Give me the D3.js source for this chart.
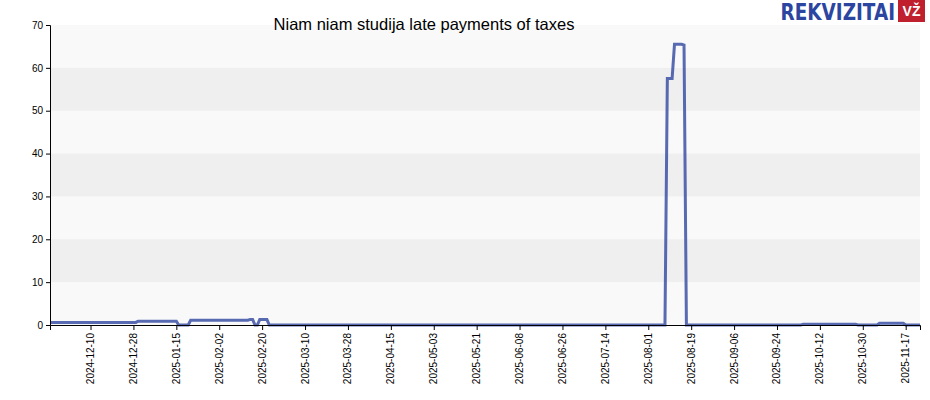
<!DOCTYPE html><html><head><meta charset="utf-8"><script src="https://cdn.jsdelivr.net/npm/d3@7"></script>
<style>body{margin:0;background:#fff}</style></head><body><svg id="c" width="930" height="400"></svg>
<script>
const title = "Niam niam studija late payments of taxes";
// step segments: start date, value (holds until next start)
const segStarts = ["2024-11-23","2024-12-30","2025-01-16","2025-01-21","2025-02-15","2025-02-17","2025-02-19","2025-02-23","2025-08-09","2025-08-12","2025-08-16","2025-08-17","2025-10-05","2025-10-28","2025-11-06","2025-11-17","2025-11-23"];
const segValues = [0.6,0.9,0,1.1,1.3,0,1.3,0,57.5,65.5,65.3,0,0.15,0,0.4,0,0];
const tickLabels = ["2024-12-10","2024-12-28","2025-01-15","2025-02-02","2025-02-20","2025-03-10","2025-03-28","2025-04-15","2025-05-03","2025-05-21","2025-06-08","2025-06-26","2025-07-14","2025-08-01","2025-08-19","2025-09-06","2025-09-24","2025-10-12","2025-10-30","2025-11-17"];
const yTicks = [0,10,20,30,40,50,60,70];

const p = d3.utcParse("%Y-%m-%d");
const svg = d3.select("#c");
const L=50,R=920,T=25,B=325;
const x = d3.scaleUtc().domain([p("2024-11-23"),p("2025-11-23")]).range([L,R]);
const y = d3.scaleLinear().domain([0,70]).range([B,T]);
svg.append("rect").attr("x",L).attr("y",T).attr("width",R-L).attr("height",B-T).attr("fill","#f9f9f9");
for(let i=0;i<7;i++){ if(i%2==1) svg.append("rect").attr("x",L).attr("y",y(yTicks[i+1])).attr("width",R-L).attr("height",y(yTicks[i])-y(yTicks[i+1])).attr("fill","#efefef");}
const data=[];
for(let s=0;s<segStarts.length-1;s++){
  for(let d=p(segStarts[s]); d<p(segStarts[s+1]); d=d3.utcDay.offset(d,1)) data.push([d,segValues[s]]);
}
data.push([p(segStarts[segStarts.length-1]),segValues[segValues.length-1]]);
svg.append("path").datum(data).attr("fill","none").attr("stroke","#2f46a0").attr("stroke-opacity",0.8).attr("stroke-width",3)
 .attr("d",d3.line().x(d=>x(d[0])).y(d=>y(d[1])));
const ya = svg.append("g").attr("transform",`translate(${L},0)`).call(d3.axisLeft(y).tickValues(yTicks).tickSize(4));
ya.selectAll("text").attr("font-family","Arial, Liberation Sans").attr("font-size",10).attr("fill","#000");
const xa = svg.append("g").attr("transform",`translate(0,${B})`).call(d3.axisBottom(x).tickValues(tickLabels.map(p)).tickFormat(d3.utcFormat("%Y-%m-%d")).tickSize(5));
xa.selectAll("text").attr("font-family","Arial, Liberation Sans").attr("font-size",10).attr("fill","#000")
 .attr("transform","rotate(-90)").attr("text-anchor","end").attr("dx","-8").attr("dy","-0.5em");
svg.selectAll(".domain").attr("stroke","#000");
svg.append("text").attr("x",424).attr("y",30).attr("text-anchor","middle").attr("font-family","Arial, Liberation Sans").attr("font-size",16.5).text(title);
svg.append("text").attr("transform","translate(895,20) scale(0.8,1)").attr("text-anchor","end").attr("font-family","DejaVu Sans, Arial").attr("font-weight","bold").attr("font-size",23).attr("fill","#2b45a0").text("REKVIZITAI");
svg.append("rect").attr("x",898).attr("y",0).attr("width",27).attr("height",22).attr("fill","#c0202e");
svg.append("text").attr("x",911.5).attr("y",16).attr("text-anchor","middle").attr("font-family","Arial, Liberation Sans").attr("font-weight","bold").attr("font-size",14).attr("fill","#fff").text("VŽ");
</script></body></html>
